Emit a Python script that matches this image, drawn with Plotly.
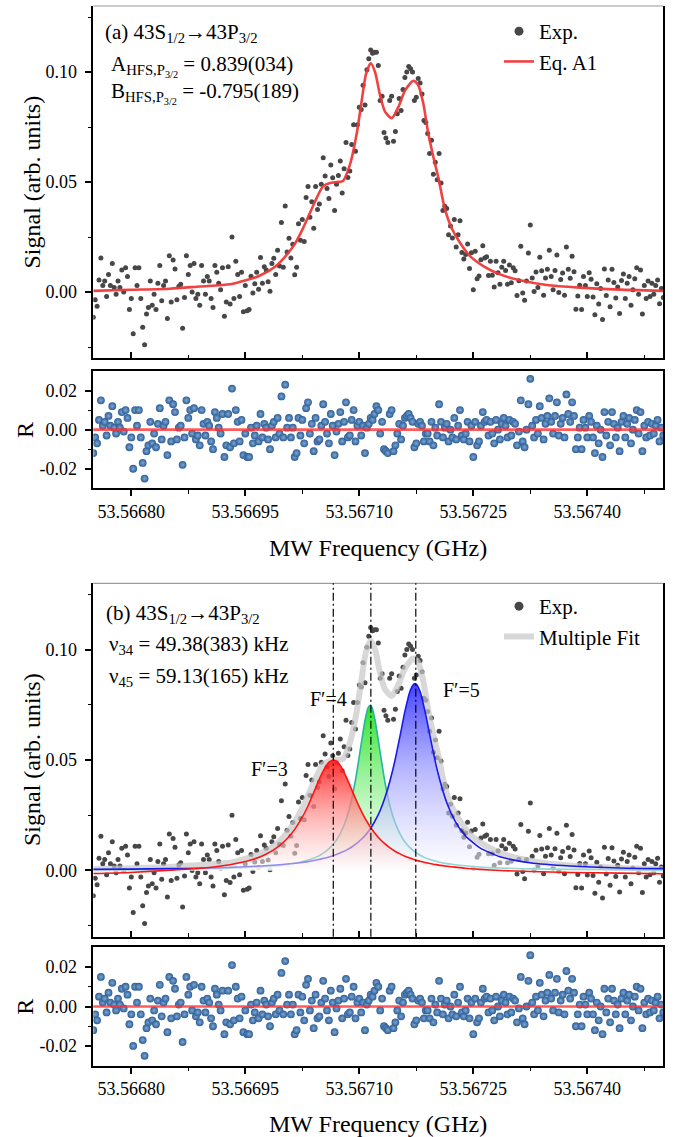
import numpy as np
import plotly.graph_objects as go

# ---------------- data ----------------
F0_GHZ = 53.56675          # first sweep frequency
STEP_KHZ = 2.5             # sweep step

signal = [
    -0.0115, -0.0035, -0.0065, 0.0055, 0.0155, 0.003, 0.005, -0.002, 0.008, 0.003,
    0.013, 0.002, -0.001, 0.005, 0.002, 0.010, 0.000, 0.011, 0.007, -0.008,
    -0.003, -0.019, 0.011, 0.003, 0.011, -0.003, -0.016, -0.024, -0.010, -0.007,
    0.005, -0.006, -0.001, -0.008, 0.004, 0.012, -0.004, 0.003, 0.005, -0.012,
    0.0165, -0.0045, 0.0145, 0.0105, -0.0035, 0.0025, 0.0035, -0.0165, -0.0025, 0.0165,
    0.008, 0.012, 0.000, 0.013, -0.003, -0.001, -0.006, 0.012, 0.005, -0.001,
    0.007, 0.005, -0.003, -0.007, 0.012, 0.009, 0.004, 0.001, 0.011, -0.011,
    -0.0045, 0.0115, -0.0055, 0.025, -0.003, 0.014, 0.008, -0.002, 0.009, -0.009,
    0.003, -0.0085, -0.008, 0.0072, -0.0005, 0.0038, 0.009, 0.0013, 0.0157, 0.004,
    0.0115, 0.010, 0.0047, 0.0003, 0.013, 0.0153, 0.008, 0.019, 0.0118, 0.0316,
    0.0113, 0.0391, 0.0182, 0.0244, 0.0155, 0.0217, 0.0078, 0.0113, 0.031, 0.0235,
    0.033, 0.023, 0.043, 0.048, 0.034, 0.041, 0.029, 0.048, 0.0375, 0.040,
    0.049, 0.061, 0.0527, 0.047, 0.0425, 0.0577, 0.0519, 0.037, 0.049, 0.053,
    0.0595, 0.045, 0.056, 0.068, 0.052, 0.055, 0.067, 0.076, 0.064, 0.076,
    0.084, 0.083, 0.094, 0.085, 0.101, 0.106, 0.110, 0.1085, 0.109, 0.109,
    0.103, 0.087, 0.089, 0.0725, 0.070, 0.068, 0.087, 0.089, 0.0685, 0.073,
    0.081, 0.088, 0.0825, 0.092, 0.0975, 0.100, 0.1025, 0.1015, 0.100, 0.087,
    0.0885, 0.097, 0.095, 0.090, 0.078, 0.077, 0.072, 0.063, 0.069, 0.0535,
    0.059, 0.051, 0.063, 0.0495, 0.037, 0.039, 0.038, 0.026, 0.030, 0.0245,
    0.033, 0.0205, 0.026, 0.0324, 0.018, 0.015, 0.017, 0.0218, 0.0107, 0.0178,
    0.001, 0.0185, 0.006, 0.0073, 0.0147, 0.021, 0.0155, 0.016, 0.0075, 0.014,
    0.0076, 0.0023, 0.014, 0.0088, 0.0035, 0.0112, 0.014, 0.0098, 0.0035, 0.0123,
    0.0042, 0.011, 0.0097, -0.0016, 0.0051, 0.0208, -0.0005, -0.0038, 0.005, 0.0177,
    0.0305, 0.0064, 0.0002, 0.0091, 0.002, 0.0158, 0.0097, -0.0015, 0.0064, 0.0103,
    0.019, 0.007, 0.001, 0.0098, 0.0168, -0.0002, 0.0057, 0.0086, -0.0015, 0.0205,
    0.0103, 0.0063, 0.0163, 0.0092, -0.0078, -0.0018, 0.0031, -0.008, 0.007, 0.003,
    -0.0021, 0.0088, 0.0058, -0.0023, -0.0103, 0.0037, -0.0054, 0.0016, -0.0125, 0.0105,
    -0.0016, 0.0054, -0.0067, 0.0103, 0.0043, -0.0027, 0.0023, -0.0098, 0.0052, 0.0082,
    -0.003, 0.004, 0.007, -0.006, 0.001, 0.006, 0.011, -0.001, 0.010, -0.010,
    0.003, -0.003, 0.005, -0.002, 0.004, -0.001, 0.003, 0.0055, -0.0053, 0.0016, -0.0025,
]

residual = [
    -0.012, -0.004, -0.007, 0.005, 0.015, 0.002, 0.004, -0.003, 0.007, 0.002,
    0.012, 0.001, -0.002, 0.004, 0.001, 0.009, -0.001, 0.010, 0.006, -0.009,
    -0.004, -0.020, 0.010, 0.002, 0.010, -0.004, -0.017, -0.025, -0.011, -0.008,
    0.004, -0.007, -0.002, -0.009, 0.003, 0.011, -0.005, 0.002, 0.004, -0.013,
    0.015, -0.006, 0.013, 0.009, -0.005, 0.001, 0.002, -0.018, -0.004, 0.015,
    0.006, 0.010, -0.002, 0.011, -0.005, -0.003, -0.008, 0.010, 0.003, -0.003,
    0.004, 0.002, -0.006, -0.010, 0.009, 0.006, 0.001, -0.002, 0.008, -0.014,
    -0.008, 0.008, -0.009, 0.021, -0.007, 0.010, 0.004, -0.006, 0.005, -0.013,
    -0.002, -0.014, -0.014, 0.001, -0.007, -0.003, 0.002, -0.006, 0.008, -0.004,
    0.003, 0.001, -0.005, -0.010, 0.002, 0.004, -0.004, 0.006, -0.002, 0.017,
    -0.004, 0.023, 0.001, 0.006, -0.004, 0.001, -0.014, -0.012, 0.006, -0.003,
    0.005, -0.007, 0.011, 0.014, -0.002, 0.003, -0.011, 0.006, -0.006, -0.005,
    0.002, 0.013, 0.004, -0.002, -0.007, 0.008, 0.002, -0.013, -0.001, 0.003,
    0.009, -0.006, 0.004, 0.014, -0.004, -0.003, 0.005, 0.010, -0.006, 0.002,
    0.004, -0.003, 0.002, -0.012, 0.001, 0.003, 0.006, 0.005, 0.008, 0.012,
    0.010, -0.002, 0.004, -0.010, -0.011, -0.012, 0.008, 0.010, -0.011, -0.008,
    -0.002, 0.003, -0.005, 0.002, 0.006, 0.007, 0.008, 0.006, 0.004, -0.009,
    -0.007, 0.003, 0.004, 0.002, -0.006, -0.002, -0.002, -0.006, 0.004, -0.008,
    0.001, -0.003, 0.013, 0.004, -0.004, 0.001, 0.003, -0.006, 0.000, -0.004,
    0.006, -0.005, 0.002, 0.010, -0.003, -0.005, -0.002, 0.004, -0.006, 0.002,
    -0.014, 0.004, -0.008, -0.006, 0.002, 0.009, 0.004, 0.005, -0.003, 0.004,
    -0.002, -0.007, 0.005, 0.000, -0.005, 0.003, 0.006, 0.002, -0.004, 0.005,
    -0.003, 0.004, 0.003, -0.008, -0.001, 0.015, -0.006, -0.009, 0.000, 0.013,
    0.026, 0.002, -0.004, 0.005, -0.002, 0.012, 0.006, -0.005, 0.003, 0.007,
    0.016, 0.004, -0.002, 0.007, 0.014, -0.003, 0.003, 0.006, -0.004, 0.018,
    0.008, 0.004, 0.014, 0.007, -0.010, -0.004, 0.001, -0.010, 0.005, 0.001,
    -0.004, 0.007, 0.004, -0.004, -0.012, 0.002, -0.007, 0.000, -0.014, 0.009,
    -0.003, 0.004, -0.008, 0.009, 0.003, -0.004, 0.001, -0.011, 0.004, 0.007,
    -0.004, 0.003, 0.006, -0.007, 0.000, 0.005, 0.010, -0.002, 0.009, -0.011,
    0.002, -0.004, 0.004, -0.003, 0.003, -0.002, 0.002, 0.005, -0.006, 0.001, -0.003,
]

# fitted curve (Eq. A1 / multiple-peak sum), offsets in kHz from F0
fit_khz = [0, 48.3, 100.9, 140.4, 179.9, 199.6, 219.4, 239.1, 252.2, 265.4,
           274.6, 285.1, 294.3, 302.2, 311.4, 320.7, 328.5, 337.8, 346.6, 353.2,
           358.8, 365.0, 370.7, 377.3, 383.8, 392.6, 401.3, 410.1, 421.1, 427.6,
           434.2, 440.8, 447.4, 454.0, 462.8, 471.6, 482.5, 495.7, 513.2, 535.1,
           561.5, 596.6, 640.4, 684.2, 750.0]
fit_val = [0.0005, 0.001, 0.0015, 0.0025, 0.0035, 0.0052, 0.0075, 0.0115, 0.016, 0.022,
           0.028, 0.036, 0.043, 0.048, 0.0495, 0.050, 0.0505, 0.058, 0.072, 0.087,
           0.099, 0.104, 0.100, 0.0895, 0.082, 0.079, 0.084, 0.0915, 0.096, 0.094,
           0.0857, 0.072, 0.0615, 0.052, 0.0374, 0.029, 0.0224, 0.0163, 0.0118, 0.008,
           0.0053, 0.0032, 0.002, 0.0012, 0.0005]

# hyperfine components, offsets in kHz from F0
comp_khz = [0, 48.3, 100.9, 140.4, 179.9, 206.2, 225.9, 245.7, 258.8, 272.0,
            282.5, 291.7, 298.3, 304.9, 310.1, 315.8, 320.7, 326.0, 332.5, 339.1,
            345.7, 352.3, 357.6, 361.6, 364.2, 366.8, 370.7, 377.3, 383.8, 390.4,
            397.0, 403.6, 410.1, 416.7, 420.7, 423.3, 425.9, 429.9, 436.4, 443.0,
            449.6, 456.2, 465.4, 475.9, 489.1, 508.8, 535.1, 574.6, 627.2, 693.0, 750.0]
comp_F3 = [-0.0014, -0.0009, 0.0001, 0.0010, 0.0026, 0.0046, 0.0071, 0.0114, 0.0158, 0.0223,
           0.0293, 0.0367, 0.0420, 0.0465, 0.0490, 0.0500, 0.0493, 0.0470, 0.0426, 0.0373,
           0.0320, 0.0271, 0.0236, 0.0213, 0.0198, 0.0185, 0.0167, 0.0141, 0.0120, 0.0102,
           0.0087, 0.0075, 0.0064, 0.0056, 0.0051, 0.0048, 0.0045, 0.0042, 0.0036, 0.0031,
           0.0027, 0.0023, 0.0019, 0.0015, 0.0010, 0.0005, 0.0000, -0.0005, -0.0009, -0.0012, -0.0015]
comp_F4 = [0.0003, 0.0003, 0.0005, 0.0007, 0.0010, 0.0013, 0.0017, 0.0023, 0.0029, 0.0037,
           0.0047, 0.0058, 0.0069, 0.0084, 0.0099, 0.0119, 0.0142, 0.0174, 0.0230, 0.0310,
           0.0424, 0.0568, 0.0681, 0.0737, 0.0748, 0.0737, 0.0681, 0.0538, 0.0398, 0.0292,
           0.0217, 0.0166, 0.0129, 0.0103, 0.0091, 0.0084, 0.0078, 0.0069, 0.0058, 0.0050,
           0.0043, 0.0037, 0.0031, 0.0026, 0.0021, 0.0015, 0.0011, 0.0007, 0.0005, 0.0003, 0.0002]
comp_F5 = [0.0005, 0.0006, 0.0008, 0.0010, 0.0014, 0.0018, 0.0021, 0.0026, 0.0030, 0.0035,
           0.0040, 0.0046, 0.0051, 0.0056, 0.0061, 0.0067, 0.0073, 0.0081, 0.0091, 0.0104,
           0.0120, 0.0140, 0.0158, 0.0175, 0.0187, 0.0201, 0.0224, 0.0270, 0.0330, 0.0406,
           0.0499, 0.0609, 0.0721, 0.0811, 0.0840, 0.0846, 0.0840, 0.0811, 0.0721, 0.0609,
           0.0499, 0.0406, 0.0304, 0.0224, 0.0158, 0.0102, 0.0062, 0.0035, 0.0020, 0.0011, 0.0008]

peak_khz = [315.8, 365.2, 424.3]          # F'=3, 4, 5 line centres
peak_labels = ["F′=3", "F′=4", "F′=5"]

x_tickvals = [53.56680, 53.56695, 53.56710, 53.56725, 53.56740]
x_ticktext = ["53.56680", "53.56695", "53.56710", "53.56725", "53.56740"]
x_minor = [53.566875, 53.567025, 53.567175, 53.567325, 53.567475]
x_range = [53.56675, 53.56750]
sig_tickvals = [0.0, 0.05, 0.10]
sig_ticktext = ["0.00", "0.05", "0.10"]
sig_minor = [-0.025, 0.025, 0.075, 0.125]
sig_range = [-0.03, 0.13]
res_tickvals = [-0.02, 0.0, 0.02]
res_ticktext = ["-0.02", "0.00", "0.02"]
res_minor = [-0.01, 0.01]
res_range = [-0.03, 0.03]

# ---------------- derived coordinates ----------------
freq = F0_GHZ + np.arange(len(signal)) * STEP_KHZ * 1e-6
fit_x = F0_GHZ + np.array(fit_khz) * 1e-6
comp_x = F0_GHZ + np.array(comp_khz) * 1e-6
peak_x = F0_GHZ + np.array(peak_khz) * 1e-6

W, H = 674, 1137
FONT = "Liberation Serif, Times New Roman, Tinos, DejaVu Serif, serif"


def PX(x):
    return x / W


def PY(y):
    return 1 - y / H


fig = go.Figure()

EXP_COLOR = "#474747"
RES_MARKER = dict(size=7.8, color="#2d5f98",
                  gradient=dict(type="radial", color="#7fa6d2"),
                  line=dict(width=0))

# ---- panel (a) main
fig.add_trace(go.Scatter(x=freq, y=signal, mode="markers", xaxis="x", yaxis="y",
                         marker=dict(size=5, color=EXP_COLOR), showlegend=False))
fig.add_trace(go.Scatter(x=fit_x, y=fit_val, mode="lines", xaxis="x", yaxis="y",
                         line=dict(color="rgba(240,55,55,0.95)", width=2.6, shape="spline", smoothing=0.7),
                         name="Eq. A1", legend="legend", legendrank=2))
fig.add_trace(go.Scatter(x=[None], y=[None], mode="markers", xaxis="x", yaxis="y",
                         marker=dict(size=9, color=EXP_COLOR), name="Exp.",
                         legend="legend", legendrank=1))
# ---- panel (a) residual
fig.add_trace(go.Scatter(x=freq, y=residual, mode="markers", xaxis="x2", yaxis="y2",
                         marker=RES_MARKER, showlegend=False))

# ---- panel (b) main
fig.add_trace(go.Scatter(x=freq, y=signal, mode="markers", xaxis="x3", yaxis="y3",
                         marker=dict(size=5, color=EXP_COLOR), showlegend=False))
fig.add_trace(go.Scatter(x=fit_x, y=fit_val, mode="lines", xaxis="x3", yaxis="y3",
                         line=dict(color="rgba(200,200,200,0.7)", width=6, shape="spline", smoothing=0.7),
                         name="Multiple Fit", legend="legend2", legendrank=2))
fig.add_trace(go.Scatter(x=[None], y=[None], mode="markers", xaxis="x3", yaxis="y3",
                         marker=dict(size=9, color=EXP_COLOR), name="Exp.",
                         legend="legend2", legendrank=1))

comps = [
    (comp_F4, "rgb(40,180,165)", "rgba(20,225,20,0.92)", "rgba(130,240,130,0.75)", 0.075),
    (comp_F5, "rgb(25,25,235)", "rgba(45,45,255,0.9)", "rgba(150,150,255,0.7)", 0.085),
    (comp_F3, "rgb(255,20,20)", "rgba(255,25,25,0.9)", "rgba(255,140,140,0.75)", 0.050),
]
for yv, lc, top, mid, stop in comps:
    fig.add_trace(go.Scatter(
        x=comp_x, y=yv, mode="lines", xaxis="x3", yaxis="y3", showlegend=False,
        line=dict(color=lc, width=1.6, shape="spline", smoothing=0.6),
        fill="tozeroy",
        fillgradient=dict(type="vertical", start=0, stop=stop,
                          colorscale=[[0, "rgba(255,255,255,0.5)"], [0.55, mid], [1, top]]),
    ))

# ---- panel (b) residual
fig.add_trace(go.Scatter(x=freq, y=residual, mode="markers", xaxis="x4", yaxis="y4",
                         marker=RES_MARKER, showlegend=False))

# ---------------- axes ----------------
XDOM = [PX(93.3), PX(663.3)]
dom_main_a = [PY(358), PY(6)]
dom_res_a = [PY(488.3), PY(371)]
dom_main_b = [PY(936.7), PY(583.3)]
dom_res_b = [PY(1065.7), PY(947.3)]

tickfont = dict(family=FONT, size=18, color="black")


def xaxis(anchor, main):
    tk = "inside" if main else "outside"
    return dict(domain=XDOM, anchor=anchor, range=x_range, showline=True, linecolor="black",
                linewidth=1.6, ticks=tk, ticklen=6, tickwidth=1.5, tickcolor="black",
                tickmode="array", tickvals=x_tickvals, ticktext=x_ticktext,
                showticklabels=not main, tickfont=tickfont, showgrid=False, zeroline=False,
                mirror=(not main),
                minor=dict(tickmode="array", tickvals=x_minor, ticks=tk, ticklen=3.5,
                           tickwidth=1.3, tickcolor="black", showgrid=False))


def yaxis(anchor, dom, rng, tv, tt, mn):
    return dict(domain=dom, anchor=anchor, range=rng, showline=True, linecolor="black",
                linewidth=1.6, ticks="outside", ticklen=7, tickwidth=1.5, tickcolor="black",
                tickmode="array", tickvals=tv, ticktext=tt, tickfont=tickfont,
                showgrid=False, zeroline=False, mirror=True, ticklabelstandoff=4,
                minor=dict(tickmode="array", tickvals=mn, ticks="outside", ticklen=4,
                           tickwidth=1.3, tickcolor="black", showgrid=False))


fig.update_layout(
    xaxis=xaxis("y", True),
    yaxis=yaxis("x", dom_main_a, sig_range, sig_tickvals, sig_ticktext, sig_minor),
    xaxis2=xaxis("y2", False),
    yaxis2=yaxis("x2", dom_res_a, res_range, res_tickvals, res_ticktext, res_minor),
    xaxis3=xaxis("y3", True),
    yaxis3=yaxis("x3", dom_main_b, sig_range, sig_tickvals, sig_ticktext, sig_minor),
    xaxis4=xaxis("y4", False),
    yaxis4=yaxis("x4", dom_res_b, res_range, res_tickvals, res_ticktext, res_minor),
)

# ---------------- shapes ----------------
shapes = []
for xa, ya in (("x", "y"), ("x3", "y3")):
    shapes.append(dict(type="line", xref=f"{xa} domain", yref=f"{ya} domain", x0=0, x1=1, y0=1, y1=1,
                       line=dict(color="#9a9a9a", width=1.2), layer="above"))
for xa, ya in (("x2", "y2"), ("x4", "y4")):
    shapes.append(dict(type="line", xref=f"{xa} domain", yref=ya, x0=0, x1=1, y0=0, y1=0,
                       line=dict(color="rgba(255,50,50,0.8)", width=2.6), layer="above"))
for xv in peak_x:
    shapes.append(dict(type="line", xref="x3", yref="y3 domain", x0=xv, x1=xv, y0=0, y1=1,
                       line=dict(color="rgba(0,0,0,0.9)", width=1.3, dash="8px,3px,2px,3px"),
                       layer="above"))
fig.update_layout(shapes=shapes)

# ---------------- text ----------------
ann = []


def text(s, x, y, size=21, xanchor="left", yanchor="middle", angle=0):
    ann.append(dict(text=s, x=PX(x), y=PY(y), xref="paper", yref="paper", showarrow=False,
                    xanchor=xanchor, yanchor=yanchor, textangle=angle,
                    font=dict(family=FONT, size=size, color="black")))


text("(a) 43S<sub>1/2</sub>→43P<sub>3/2</sub>", 103, 33)
text("A<sub>HFS,P<sub>3/2</sub></sub> = 0.839(034)", 109, 66)
text("B<sub>HFS,P<sub>3/2</sub></sub> = -0.795(189)", 109, 93)
text("(b) 43S<sub>1/2</sub>→43P<sub>3/2</sub>", 104, 614)
text("ν<sub>34</sub> = 49.38(383) kHz", 107, 645)
text("ν<sub>45</sub> = 59.13(165) kHz", 107, 677)

text(peak_labels[0], 269, 769, size=20, xanchor="center")
text(peak_labels[1], 328, 699, size=20, xanchor="center")
text(peak_labels[2], 461, 690, size=20, xanchor="center")

for yc in (182.5, 760):
    text("Signal (arb. units)", 32, yc, size=24, xanchor="center", angle=-90)
for yc in (430, 1006.7):
    text("R", 25, yc, size=24, xanchor="center", angle=-90)
for yc in (548, 1124):
    text("MW Frequency (GHz)", 378, yc, size=24, xanchor="center")

fig.update_layout(annotations=ann)

legend_style = dict(font=dict(family=FONT, size=21, color="black"), bgcolor="rgba(0,0,0,0)",
                    xanchor="left", yanchor="top", itemsizing="trace", tracegroupgap=0)
fig.update_layout(
    legend=dict(x=PX(499), y=PY(11), **legend_style),
    legend2=dict(x=PX(499), y=PY(586), **legend_style),
    width=W, height=H, margin=dict(l=0, r=0, t=0, b=0),
    paper_bgcolor="white", plot_bgcolor="white",
    font=dict(family=FONT, color="black"),
)

fig.write_html("out.html")
